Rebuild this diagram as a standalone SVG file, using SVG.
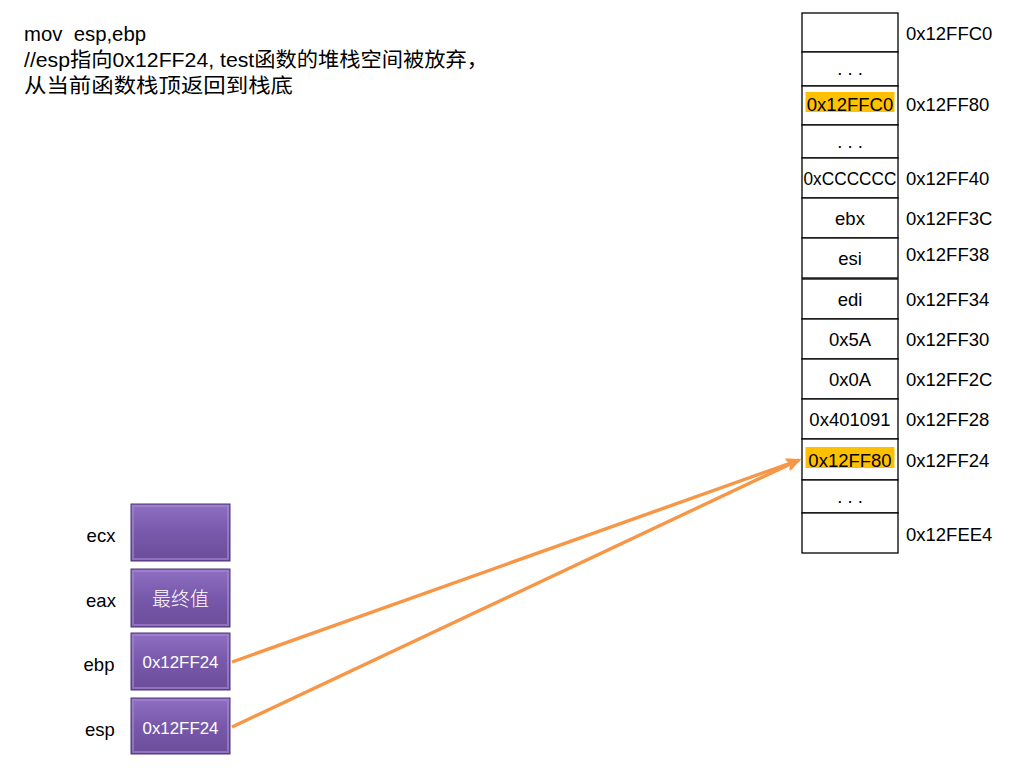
<svg xmlns="http://www.w3.org/2000/svg" width="1024" height="768" viewBox="0 0 1024 768">
<defs>
<linearGradient id="pg" x1="0" y1="0" x2="0" y2="1">
<stop offset="0" stop-color="#8e6fc2"/>
<stop offset="0.5" stop-color="#7758aa"/>
<stop offset="1" stop-color="#6b4d9b"/>
</linearGradient>
<marker id="ah" viewBox="0 0 12 10" refX="10" refY="5" markerWidth="4.5" markerHeight="4.5" orient="auto" markerUnits="strokeWidth">
<path d="M0,0 L12,5 L0,10 L3,5 Z" fill="#f79646"/>
</marker>
</defs>
<style>
text{font-family:"Liberation Sans","Noto Sans CJK SC",sans-serif;fill:#000}
.t{font-size:20.5px}
.c{font-size:18.5px;text-anchor:middle}
.a{font-size:18.5px}
.cell{fill:#fff;stroke:#000;stroke-width:1.3}
.hl{fill:#ffc000}
.reg{fill:url(#pg);stroke:#4b3473;stroke-width:1}
.bev{fill:none;stroke:#a68ad3;stroke-width:2;stroke-opacity:0.6}
.rl{font-size:18.5px;text-anchor:middle}
.rv{font-size:17px;text-anchor:middle;fill:#fff}
.conn{stroke:#f79646;stroke-width:3.4;fill:none;marker-end:url(#ah)}
</style>
<rect width="1024" height="768" fill="#fff"/>
<g id="caption">
<text class="t" x="24" y="41" xml:space="preserve" textLength="122" lengthAdjust="spacingAndGlyphs">mov  esp,ebp</text>
<text class="t" x="24" y="67" textLength="464" lengthAdjust="spacingAndGlyphs">//esp指向0x12FF24, test函数的堆栈空间被放弃，</text>
<text class="t" x="24" y="93" textLength="269" lengthAdjust="spacingAndGlyphs">从当前函数栈顶返回到栈底</text>
</g>
<g id="stack">
<g id="r0"><rect class="cell" x="802" y="13" width="96" height="39"/><text class="a" x="906" y="40">0x12FFC0</text></g>
<g id="r1"><rect class="cell" x="802" y="52" width="96" height="34"/><text class="c" x="850" y="75">. . .</text></g>
<g id="r2"><rect class="cell" x="802" y="86" width="96" height="39"/><rect class="hl" x="805.5" y="92" width="89" height="20"/><text class="c" x="850" y="111">0x12FFC0</text><text class="a" x="906" y="111">0x12FF80</text></g>
<g id="r3"><rect class="cell" x="802" y="125" width="96" height="33"/><text class="c" x="850" y="148">. . .</text></g>
<g id="r4"><rect class="cell" x="802" y="158" width="96" height="40"/><text class="c" x="850" y="185" textLength="93" lengthAdjust="spacingAndGlyphs">0xCCCCCC</text><text class="a" x="906" y="185">0x12FF40</text></g>
<g id="r5"><rect class="cell" x="802" y="198" width="96" height="40"/><text class="c" x="850" y="225">ebx</text><text class="a" x="906" y="225">0x12FF3C</text></g>
<g id="r6"><rect class="cell" x="802" y="238" width="96" height="40"/><text class="c" x="850" y="265">esi</text><text class="a" x="906" y="261">0x12FF38</text></g>
<g id="r7"><rect class="cell" x="802" y="279" width="96" height="40"/><text class="c" x="850" y="306">edi</text><text class="a" x="906" y="306">0x12FF34</text></g>
<g id="r8"><rect class="cell" x="802" y="319" width="96" height="40"/><text class="c" x="850" y="346">0x5A</text><text class="a" x="906" y="346">0x12FF30</text></g>
<g id="r9"><rect class="cell" x="802" y="359" width="96" height="40"/><text class="c" x="850" y="386">0x0A</text><text class="a" x="906" y="386">0x12FF2C</text></g>
<g id="r10"><rect class="cell" x="802" y="399" width="96" height="40"/><text class="c" x="850" y="426">0x401091</text><text class="a" x="906" y="426">0x12FF28</text></g>
<g id="r11"><rect class="cell" x="802" y="439" width="96" height="41"/><rect class="hl" x="805.5" y="447" width="89" height="21"/><text class="c" x="850" y="467">0x12FF80</text><text class="a" x="906" y="467">0x12FF24</text></g>
<g id="r12"><rect class="cell" x="802" y="480" width="96" height="33"/><text class="c" x="850" y="503">. . .</text></g>
<g id="r13"><rect class="cell" x="802" y="513" width="96" height="40"/><text class="a" x="906" y="541">0x12FEE4</text></g>
</g>
<g id="ecx"><text class="rl" x="101" y="542">ecx</text><rect class="reg" x="131" y="504" width="99" height="57"/><rect class="bev" x="133" y="506" width="95" height="53"/></g>
<g id="eax"><text class="rl" x="101" y="607">eax</text><rect class="reg" x="131" y="569" width="99" height="58"/><rect class="bev" x="133" y="571" width="95" height="54"/><text class="rv" x="180.5" y="606" style="font-family:'Noto Sans CJK SC','Liberation Sans',sans-serif;font-size:19px;font-weight:300">最终值</text></g>
<g id="ebp"><text class="rl" x="99" y="671">ebp</text><rect class="reg" x="131" y="633" width="99" height="57"/><rect class="bev" x="133" y="635" width="95" height="53"/><text class="rv" x="180.5" y="668" textLength="76" lengthAdjust="spacingAndGlyphs">0x12FF24</text></g>
<g id="esp"><text class="rl" x="100" y="736">esp</text><rect class="reg" x="131" y="698" width="99" height="56"/><rect class="bev" x="133" y="700" width="95" height="52"/><text class="rv" x="180.5" y="734" textLength="76" lengthAdjust="spacingAndGlyphs">0x12FF24</text></g>
<g id="connectors">
<line class="conn" x1="232" y1="662" x2="799" y2="460"/>
<line class="conn" x1="232" y1="727" x2="799" y2="460"/>
</g>
</svg>
